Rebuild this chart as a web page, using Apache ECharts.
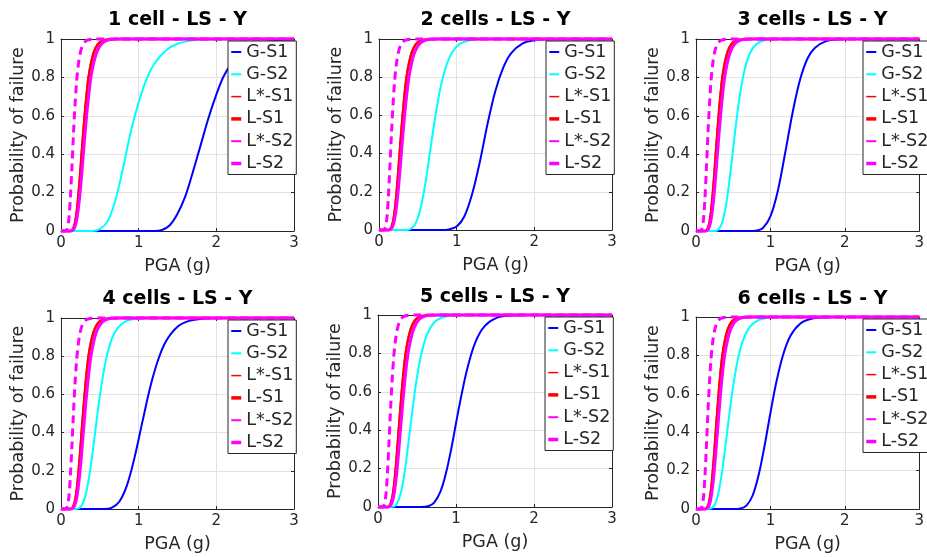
<!DOCTYPE html>
<html>
<head>
<meta charset="utf-8">
<script src="https://cdn.jsdelivr.net/npm/echarts@6/dist/echarts.min.js"></script>
<style>
  html, body { margin: 0; padding: 0; background: #ffffff; }
  #chart { width: 927px; height: 557px; }
</style>
</head>
<body>
<div id="chart"></div>
<script>
// ---- data ----------------------------------------------------------------
const panelTitles = ['1 cell - LS - Y', '2 cells - LS - Y', '3 cells - LS - Y',
                     '4 cells - LS - Y', '5 cells - LS - Y', '6 cells - LS - Y'];
const seriesNames = ['G-S1', 'G-S2', 'L*-S1', 'L-S1', 'L*-S2', 'L-S2'];
const xTickValues = [0, 1, 2, 3];
const xTickLabels = ['0', '1', '2', '3'];
const yTickValues = [0, 0.2, 0.4, 0.6, 0.8, 1];
const yTickLabels = ['0', '0.2', '0.4', '0.6', '0.8', '1'];
const xAxisTitle = 'PGA (g)';
const yAxisTitle = 'Probability of failure';

// fragility curves [PGA (g), probability] - global mechanism, per panel
const gS1_p1 = [[0,0],[1.2,0],[1.3,0.005],[1.4,0.03],[1.5,0.09],[1.6,0.18],[1.7,0.31],[1.8,0.45],[1.9,0.59],[2.0,0.71],[2.1,0.81],[2.25,0.9],[2.45,0.96],[2.7,0.99],[3,0.998]];
const gS2_p1 = [[0,0],[0.4,0],[0.5,0.01],[0.6,0.05],[0.7,0.16],[0.8,0.33],[0.9,0.52],[1.0,0.67],[1.1,0.79],[1.2,0.87],[1.35,0.94],[1.5,0.975],[1.7,0.993],[1.9,0.999],[3,1]];
const gS1_p2 = [[0,0],[0.8,0],[0.9,0.003],[1.0,0.018],[1.1,0.072],[1.2,0.19],[1.3,0.36],[1.4,0.56],[1.5,0.73],[1.6,0.85],[1.7,0.925],[1.85,0.977],[2.0,0.994],[2.2,0.999],[2.4,1],[3,1]];
const gS2_p2 = [[0,0],[0.35,0],[0.4,0.005],[0.45,0.021],[0.5,0.063],[0.55,0.14],[0.6,0.25],[0.65,0.39],[0.7,0.53],[0.75,0.655],[0.8,0.76],[0.87,0.865],[0.95,0.936],[1.05,0.977],[1.2,0.996],[1.4,1],[3,1]];
const gS1_p3 = [[0,0],[0.7,0],[0.8,0.002],[0.9,0.016],[1.0,0.076],[1.1,0.21],[1.2,0.41],[1.3,0.62],[1.4,0.79],[1.5,0.9],[1.6,0.955],[1.75,0.989],[1.9,0.998],[2.1,1],[3,1]];
const gS2_p3 = [[0,0],[0.25,0],[0.3,0.008],[0.35,0.043],[0.4,0.127],[0.45,0.264],[0.5,0.432],[0.55,0.596],[0.6,0.733],[0.66,0.85],[0.73,0.93],[0.82,0.976],[0.95,0.996],[1.1,1],[3,1]];
const gS1_p4 = [[0,0],[0.55,0],[0.65,0.006],[0.75,0.038],[0.85,0.125],[0.95,0.275],[1.05,0.46],[1.15,0.64],[1.25,0.78],[1.35,0.877],[1.5,0.954],[1.65,0.985],[1.85,0.997],[2.05,1],[3,1]];
const gS2_p4 = [[0,0],[0.18,0],[0.22,0.002],[0.27,0.02],[0.32,0.078],[0.37,0.188],[0.42,0.338],[0.47,0.5],[0.52,0.646],[0.58,0.782],[0.65,0.885],[0.73,0.948],[0.83,0.982],[0.95,0.995],[1.1,1],[3,1]];
const gS1_p5 = [[0,0],[0.55,0],[0.65,0.005],[0.72,0.023],[0.8,0.08],[0.87,0.174],[0.94,0.305],[1.0,0.436],[1.07,0.583],[1.15,0.729],[1.25,0.86],[1.37,0.943],[1.52,0.985],[1.7,0.997],[1.9,1],[3,1]];
const gS2_p5 = [[0,0],[0.16,0],[0.2,0.002],[0.25,0.022],[0.3,0.086],[0.35,0.206],[0.4,0.367],[0.45,0.532],[0.5,0.676],[0.56,0.805],[0.63,0.9],[0.72,0.961],[0.83,0.988],[0.95,0.997],[1.1,1],[3,1]];
const gS1_p6 = [[0,0],[0.5,0],[0.6,0.003],[0.68,0.019],[0.76,0.069],[0.84,0.174],[0.92,0.326],[1.0,0.5],[1.08,0.661],[1.17,0.802],[1.27,0.902],[1.4,0.965],[1.55,0.991],[1.75,0.999],[1.9,1],[3,1]];
const gS2_p6 = [[0,0],[0.16,0],[0.2,0.003],[0.25,0.021],[0.3,0.081],[0.35,0.193],[0.4,0.342],[0.45,0.5],[0.5,0.642],[0.56,0.775],[0.63,0.877],[0.72,0.947],[0.83,0.983],[0.95,0.995],[1.1,1],[3,1]];

// local mechanism curves (same in every panel)
const lStarS1 = [[0,0],[0.12,0],[0.14,0.005],[0.16,0.019],[0.18,0.05],[0.2,0.106],[0.22,0.186],[0.24,0.284],[0.26,0.393],[0.28,0.5],[0.3,0.6],[0.32,0.69],[0.35,0.8],[0.38,0.87],[0.42,0.933],[0.47,0.973],[0.53,0.991],[0.6,0.998],[0.7,1],[3,1]];
const lS1 = [[0,0],[0.125,0],[0.145,0.005],[0.165,0.02],[0.185,0.052],[0.205,0.108],[0.225,0.19],[0.245,0.288],[0.265,0.396],[0.285,0.5],[0.305,0.6],[0.325,0.69],[0.355,0.8],[0.385,0.87],[0.425,0.933],[0.475,0.973],[0.535,0.991],[0.61,0.998],[0.7,1],[3,1]];
const lStarS2 = [[0,0],[0.132,0],[0.154,0.005],[0.176,0.019],[0.198,0.05],[0.22,0.106],[0.242,0.186],[0.264,0.284],[0.286,0.393],[0.308,0.5],[0.33,0.6],[0.352,0.69],[0.385,0.8],[0.418,0.87],[0.462,0.933],[0.517,0.973],[0.583,0.991],[0.66,0.998],[0.77,1],[3,1]];
const lS2 = [[0,0],[0.05,0],[0.07,0.003],[0.09,0.027],[0.11,0.106],[0.13,0.245],[0.15,0.415],[0.17,0.58],[0.19,0.716],[0.21,0.818],[0.24,0.911],[0.28,0.969],[0.33,0.992],[0.4,0.999],[0.5,1],[3,1]];

const panelCurves = [
  [gS1_p1, gS2_p1, lStarS1, lS1, lStarS2, lS2],
  [gS1_p2, gS2_p2, lStarS1, lS1, lStarS2, lS2],
  [gS1_p3, gS2_p3, lStarS1, lS1, lStarS2, lS2],
  [gS1_p4, gS2_p4, lStarS1, lS1, lStarS2, lS2],
  [gS1_p5, gS2_p5, lStarS1, lS1, lStarS2, lS2],
  [gS1_p6, gS2_p6, lStarS1, lS1, lStarS2, lS2]
];

// ---- layout & style ------------------------------------------------------
const FONT = 'DejaVu Sans';
const INK = '#262626';
const panelBoxes = [
  { left: 61,  top: 39,  width: 233, height: 192, titleTop: 11 },
  { left: 379, top: 39,  width: 233, height: 191, titleTop: 11 },
  { left: 696, top: 39,  width: 233, height: 192, titleTop: 11 },
  { left: 61,  top: 318, width: 233, height: 191, titleTop: 290 },
  { left: 378, top: 315, width: 234, height: 192, titleTop: 288 },
  { left: 696, top: 317, width: 233, height: 192, titleTop: 290 }
];
const lineStyles = [
  { color: '#0000ff', width: 2 },
  { color: '#00ffff', width: 2 },
  { color: '#ff0000', width: 1.5 },
  { color: '#ff0000', width: 2.5 },
  { color: '#ff00ff', width: 3 },
  { color: '#ff00ff', width: 3, type: [8, 5] }
];
const legendLineWidths = [2, 2, 1.5, 3.5, 2, 3.5];

function tickText(values, labels) {
  return v => {
    const k = values.findIndex(t => Math.abs(t - v) < 1e-9);
    return k >= 0 ? labels[k] : '';
  };
}

const grids = [], xAxes = [], yAxes = [], titles = [], legends = [], series = [];

panelBoxes.forEach((b, i) => {
  grids.push({ left: b.left, top: b.top, width: b.width, height: b.height, containLabel: false });

  // main axes (bottom / left)
  xAxes.push({
    type: 'value', gridIndex: i, position: 'bottom',
    min: xTickValues[0], max: xTickValues[xTickValues.length - 1], interval: 1,
    axisLine: { show: true, onZero: false, lineStyle: { color: INK, width: 1 } },
    axisTick: { show: true, inside: true, length: 3, lineStyle: { color: INK } },
    axisLabel: { margin: 5, color: INK, fontFamily: FONT, fontSize: 15, formatter: tickText(xTickValues, xTickLabels) },
    splitLine: { show: true, lineStyle: { color: '#e2e2e2', width: 1 } },
    name: xAxisTitle, nameLocation: 'middle', nameGap: 26,
    nameTextStyle: { color: INK, fontFamily: FONT, fontSize: 17.5 }
  });
  // mirrored box edge (top)
  xAxes.push({
    type: 'value', gridIndex: i, position: 'top',
    min: xTickValues[0], max: xTickValues[xTickValues.length - 1], interval: 1,
    axisLine: { show: true, onZero: false, lineStyle: { color: INK, width: 1 } },
    axisTick: { show: true, inside: true, length: 3, lineStyle: { color: INK } },
    axisLabel: { show: false }, splitLine: { show: false }
  });

  yAxes.push({
    type: 'value', gridIndex: i, position: 'left',
    min: 0, max: 1, interval: 0.2,
    axisLine: { show: true, onZero: false, lineStyle: { color: INK, width: 1 } },
    axisTick: { show: true, inside: true, length: 3, lineStyle: { color: INK } },
    axisLabel: { margin: 6, color: INK, fontFamily: FONT, fontSize: 15, formatter: tickText(yTickValues, yTickLabels) },
    splitLine: { show: true, lineStyle: { color: '#e2e2e2', width: 1 } },
    name: yAxisTitle, nameLocation: 'middle', nameGap: 33,
    nameTextStyle: { color: INK, fontFamily: FONT, fontSize: 17.5 }
  });
  // mirrored box edge (right)
  yAxes.push({
    type: 'value', gridIndex: i, position: 'right',
    min: 0, max: 1, interval: 0.2,
    axisLine: { show: true, onZero: false, lineStyle: { color: INK, width: 1 } },
    axisTick: { show: true, inside: true, length: 3, lineStyle: { color: INK } },
    axisLabel: { show: false }, splitLine: { show: false }
  });

  titles.push({
    text: panelTitles[i],
    left: b.left + b.width / 2, top: b.titleTop, textAlign: 'center', padding: 0,
    textStyle: { fontFamily: FONT, fontWeight: 'bold', fontSize: 19, color: '#000000' }
  });

  legends.push({
    orient: 'vertical', left: b.left + 167, top: b.top + 2,
    padding: [2, 3, 2, 1.5], itemGap: 4.3, itemWidth: 10, itemHeight: 14,
    backgroundColor: '#ffffff', borderColor: INK, borderWidth: 1, borderRadius: 0,
    selectedMode: false,
    itemStyle: { opacity: 0 },
    textStyle: { fontFamily: FONT, fontSize: 17.5, color: INK, lineHeight: 18 },
    data: seriesNames.map((n, k) => ({ name: n, lineStyle: { width: legendLineWidths[k], type: 'solid' } }))
  });

  panelCurves[i].forEach((pts, k) => {
    series.push({
      type: 'line', name: seriesNames[k],
      xAxisIndex: 2 * i, yAxisIndex: 2 * i,
      data: pts, smooth: 0.35,
      symbol: 'none', showSymbol: false, clip: false,
      lineStyle: Object.assign({}, lineStyles[k]),
      itemStyle: { color: lineStyles[k].color },
      emphasis: { disabled: true }
    });
  });
});

const chart = echarts.init(document.getElementById('chart'), null, { renderer: 'canvas' });
chart.setOption({
  animation: false,
  backgroundColor: '#ffffff',
  title: titles,
  legend: legends,
  grid: grids,
  xAxis: xAxes,
  yAxis: yAxes,
  series: series
});
</script>
</body>
</html>
